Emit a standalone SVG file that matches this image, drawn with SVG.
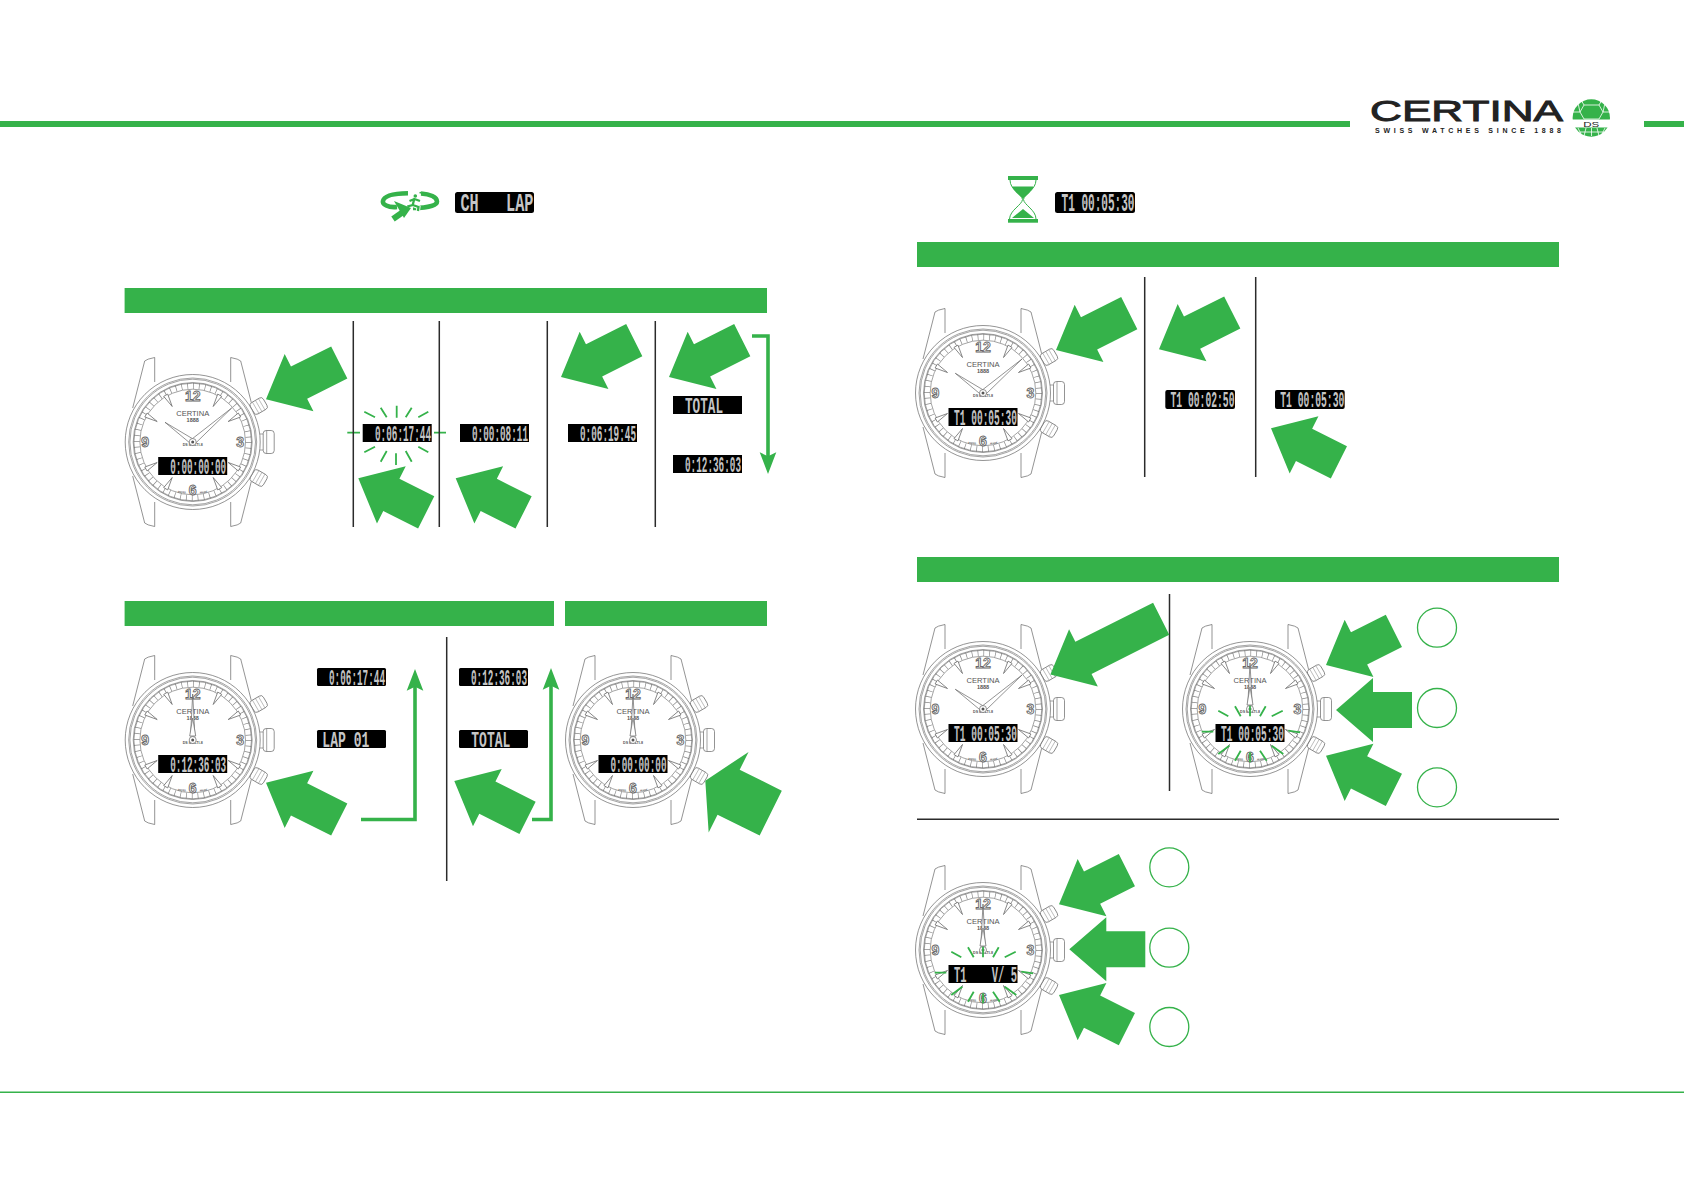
<svg xmlns="http://www.w3.org/2000/svg" width="1684" height="1191" viewBox="0 0 1684 1191">
<style>
.g{fill:#35b24a}
.ln{fill:none;stroke:#666;stroke-width:.6}
.w{fill:#fff;stroke:#666;stroke-width:.7}
.div{stroke:#2b2b2b;stroke-width:1.5;fill:none}
.ray{stroke:#35b24a;stroke-width:1.8;fill:none}
.flow{stroke:#35b24a;stroke-width:3.6;fill:none}
.lcd{fill:#000}
.t{font-family:"Liberation Mono",monospace;font-weight:700;font-size:9.400px;fill:url(#dots)}
.th{font-family:"Liberation Mono",monospace;font-weight:700;font-size:10.800px;fill:url(#dots)}
.num{font-family:"Liberation Sans",Arial,sans-serif;font-weight:700;font-size:14px;fill:#fff;stroke:#666;stroke-width:.9;text-anchor:middle}
.dial{font-family:"Liberation Sans",Arial,sans-serif;fill:#555;text-anchor:middle}
</style>
<defs>
<pattern id="dots" patternUnits="userSpaceOnUse" width="1.5" height=".625"><rect width="1.5" height=".625" fill="#999"/><ellipse cx=".75" cy=".312" rx=".62" ry=".26" fill="#fff"/></pattern>
<polygon id="ar" points="0,0 37,-32 37,-18 76,-18 76,18 37,18 37,32" class="g"/>
<polygon id="br" points="0,0 37,-32 37,-18 82,-18 82,18 37,18 37,32" class="g"/>
<polygon id="cr" points="0,0 37,-32 37,-18 124,-18 124,18 37,18 37,32" class="g"/>
<polygon id="dr" points="0,0 26,-45 26,-25 73,-25 73,25 26,25 26,45" class="g"/>
<polygon id="mk" points="0,-41 2.300,-54 -2.300,-54" class="w"/>
<g id="btn"><rect x="-7.500" y="-6.500" width="15" height="13" rx="3" class="w"/><path fill="none" stroke="#888" stroke-width=".5" d="M-3.500,-6.500V6.500M0,-6.500V6.500M3.500,-6.500V6.500"/></g>
<g id="watch">
<path class="w" d="M-60,-34L-48,-81Q-46,-83 -38,-84.500L-38,-60M60,-34L48,-81Q46,-83 38,-84.500L38,-60M-60,34L-48,81Q-46,83 -38,84.500L-38,60M60,34L48,81Q46,83 38,84.500L38,60"/>
<use href="#btn" transform="translate(66,-36) rotate(-30)"/>
<use href="#btn" transform="translate(66,36) rotate(30)"/>
<rect x="70.500" y="-11.500" width="11" height="23" rx="3" class="w"/><path class="ln" d="M74,-11.500V11.500M67,-8H70.500M67,8H70.500"/>
<circle r="67.500" class="w"/><circle r="64" class="ln"/><circle r="62.800" class="ln"/><circle r="59.500" class="ln"/>
<circle r="56" fill="none" stroke="#888" stroke-width="6" stroke-dasharray=".7 5.165"/>
<circle r="58.800" class="ln" stroke-width=".5"/><circle r="52.800" class="ln"/>
<use href="#mk" transform="rotate(30)"/><use href="#mk" transform="rotate(60)"/><use href="#mk" transform="rotate(120)"/><use href="#mk" transform="rotate(150)"/><use href="#mk" transform="rotate(210)"/><use href="#mk" transform="rotate(240)"/><use href="#mk" transform="rotate(300)"/><use href="#mk" transform="rotate(330)"/>
<text class="num" x="0" y="-41.500">12</text><text class="num" x="47.500" y="5">3</text><text class="num" x="0" y="52.500">6</text><text class="num" x="-47.500" y="5">9</text>
<text class="dial" x="0" y="-26" font-size="6.500" textLength="33" lengthAdjust="spacingAndGlyphs">CERTINA</text>
<text class="dial" x="0" y="-20" font-size="5.500" font-weight="700">1888</text>
<text class="dial" x="0" y="4.200" font-size="3.600" font-weight="700">DS MULTI-8</text>
<text class="dial" x="-11" y="51" font-size="2.500" font-weight="700" transform="rotate(8 -11 51)">SWISS</text>
<text class="dial" x="11" y="51" font-size="2.500" font-weight="700" transform="rotate(-8 11 51)">MADE</text>
</g>
<g id="h1010"><polygon class="w" points="-2.200,1.500 -27.700,-19.700 1.200,-2.500"/><polygon class="w" points="-2,-2 39,-34 2,2"/><circle r="3.500" class="w"/><circle r="1.500" fill="#555"/></g>
<g id="h12"><polygon class="w" points="-2.200,-4 0,-46 2.200,-4"/><polygon class="w" points="-3,-4 0,-22 3,-4"/><circle r="3.500" class="w"/><circle r="1.500" fill="#555"/></g>
<path id="wrays" class="ray" d="M-31.700,1.700L-21.700,7.300M-15,-2.700L-9.300,7.300M0,-3.300V7.300M15.700,-2.700L10,7.300M32.700,1.700L21.700,7.300M-48.300,22.700H-36.700M38.300,21.700L50,23.300M-31.700,45L-20.700,36.700M-15,51.700L-9.300,41.700M0,43.300V53.300M10,41.700L16.700,51.700M21.700,36.700L33.300,45"/>
<marker id="flowhead" markerUnits="userSpaceOnUse" viewBox="0 -9 22 18" markerWidth="22" markerHeight="18" refX="8" refY="0" orient="auto"><path class="g" d="M0,-8.300L21.700,0L0,8.300L4,0Z"/></marker>
</defs>
<rect width="1684" height="1191" fill="#fff"/>

<g id="bars">
<rect x="0" y="121" width="1350" height="6" class="g"/><rect x="1644" y="121" width="40" height="6" class="g"/>
<rect x="124.600" y="288" width="642.400" height="25" class="g"/>
<rect x="124.600" y="601" width="429.400" height="25" class="g"/><rect x="565" y="601" width="202" height="25" class="g"/>
<rect x="917" y="242" width="642" height="25" class="g"/><rect x="917" y="557" width="642" height="25" class="g"/>
<rect x="0" y="1091.500" width="1684" height="1.500" class="g"/>
</g>

<g id="logo">
<text x="1370" y="120.500" font-family="'Liberation Sans',Arial,sans-serif" font-size="29" fill="#222" stroke="#222" stroke-width=".9" textLength="193" lengthAdjust="spacingAndGlyphs">CERTINA</text>
<text x="1375" y="133" font-family="'Liberation Sans',Arial,sans-serif" font-weight="700" font-size="7" fill="#222" textLength="186" lengthAdjust="spacing">SWISS WATCHES SINCE 1888</text>
<circle cx="1591.300" cy="118" r="18.700" class="g"/>
<path fill="none" stroke="#fff" stroke-width=".8" d="M1584,105h15l4,7l-4,7h-15l-4,-7zM1584,105l-3,-5M1599,105l3,-5M1580,112h-8M1603,112h8M1578,103l2,9M1605,103l-2,9M1586,128l-2,8M1597,128l2,8M1591.500,128v8M1578,128l3,6M1605,128l-3,6M1580,132h24"/>
<rect x="1571" y="119.500" width="41" height="8" fill="#fff"/>
<text x="1591.300" y="127" text-anchor="middle" font-family="'Liberation Sans',Arial,sans-serif" font-size="8" fill="#222" textLength="16" lengthAdjust="spacingAndGlyphs">DS</text>
</g>

<g id="icon-lap">
<path fill="none" stroke="#35b24a" stroke-width="4.600" d="M397,207C388,208 382,204 383,201C384,196 392,193.500 408,193.300"/>
<path fill="none" stroke="#35b24a" stroke-width="4.600" d="M421,193.500C430,194 437,197 437,201.500C437,205 430,208 413,208"/>
<path fill="none" stroke="#35b24a" stroke-width="6" d="M393,219L403,212"/>
<polygon class="g" points="394,201 411,208 404,218"/>
<path fill="none" stroke="#fff" stroke-width="4" d="M414.500,198L412.700,205L418.500,207L418,211"/>
<path fill="none" stroke="#35b24a" stroke-width="2.300" d="M414.500,198L412.700,205L407.300,206.500M412.700,205L418.500,207L418,211M414.500,199L409.500,201M414.500,199L420,201"/>
<circle cx="415.300" cy="196" r="1.800" class="g"/><circle cx="420.300" cy="192.700" r=".9" class="g"/>
</g>
<g id="lcd-ch-lap"><rect x="455" y="192" width="79" height="21" rx="2.500" class="lcd"/><text class="th" transform="translate(460.500,211) scale(1,2.400)" textLength="73" lengthAdjust="spacingAndGlyphs" xml:space="preserve">CH   LAP</text></g>

<g id="icon-timer">
<rect x="1008" y="176" width="30" height="4" class="g"/><rect x="1008" y="219" width="30" height="3.700" class="g"/>
<path fill="none" stroke="#35b24a" stroke-width="1" d="M1010,180C1010,190 1022,194 1022.500,199.500C1022,205 1010,210 1009.500,219M1036,180C1036,190 1024,194 1023.500,199.500C1024,205 1036,210 1036,219"/>
<path class="g" d="M1012,186.500H1033.500C1032,192 1025,196 1023,199C1021,196 1014,192 1012,186.500Z"/>
<polygon class="g" points="1012,218 1023,209 1034,218"/>
</g>
<g id="lcd-t1-header"><rect x="1055" y="192" width="80" height="21" rx="2.500" class="lcd"/><text class="th" transform="translate(1061.500,211) scale(1,2.400)" textLength="73" lengthAdjust="spacingAndGlyphs">T1 00:05:30</text></g>

<g id="watch-1" transform="translate(192.700,442)"><use href="#watch"/><use href="#h1010"/><rect x="-34.500" y="15" width="69" height="18" class="lcd"/><text class="t" transform="translate(-22.500,31.500) scale(1,2.400)" textLength="56" lengthAdjust="spacingAndGlyphs">0:00:00:00</text></g>
<g id="watch-2" transform="translate(192.700,740)"><use href="#watch"/><use href="#h12"/><rect x="-34.500" y="15" width="69" height="18" class="lcd"/><text class="t" transform="translate(-22.500,31.500) scale(1,2.400)" textLength="56" lengthAdjust="spacingAndGlyphs">0:12:36:03</text></g>
<g id="watch-3" transform="translate(633,740)"><use href="#watch"/><use href="#h12"/><rect x="-34.500" y="15" width="69" height="18" class="lcd"/><text class="t" transform="translate(-22.500,31.500) scale(1,2.400)" textLength="56" lengthAdjust="spacingAndGlyphs">0:00:00:00</text></g>
<g id="watch-4" transform="translate(983,393)"><use href="#watch"/><use href="#h1010"/><rect x="-34.500" y="15" width="69" height="18" class="lcd"/><text class="t" transform="translate(-29,31.500) scale(1,2.400)" textLength="63" lengthAdjust="spacingAndGlyphs">T1 00:05:30</text></g>
<g id="watch-5" transform="translate(983,709)"><use href="#watch"/><use href="#h1010"/><rect x="-34.500" y="15" width="69" height="18" class="lcd"/><text class="t" transform="translate(-29,31.500) scale(1,2.400)" textLength="63" lengthAdjust="spacingAndGlyphs">T1 00:05:30</text></g>
<g id="watch-6" transform="translate(1250,709)"><use href="#watch"/><use href="#h12"/><rect x="-34.500" y="15" width="69" height="18" class="lcd"/><text class="t" transform="translate(-29,31.500) scale(1,2.400)" textLength="63" lengthAdjust="spacingAndGlyphs">T1 00:05:30</text><use href="#wrays"/></g>
<g id="watch-7" transform="translate(983,950)"><use href="#watch"/><use href="#h12"/><rect x="-34.500" y="15" width="69" height="18" class="lcd"/><text class="t" transform="translate(-29,31.500) scale(1,2.400)" textLength="63" lengthAdjust="spacingAndGlyphs" xml:space="preserve">T1    V/ 5</text><use href="#wrays"/></g>

<g id="lcds">
<rect x="362.700" y="424" width="69" height="18" class="lcd"/><text class="t" transform="translate(375,440.500) scale(1,2.400)" textLength="56" lengthAdjust="spacingAndGlyphs">0:06:17:44</text>
<rect x="460" y="424" width="69" height="18" class="lcd"/><text class="t" transform="translate(472,440.500) scale(1,2.400)" textLength="56" lengthAdjust="spacingAndGlyphs">0:00:08:11</text>
<rect x="568" y="424" width="69" height="18" class="lcd"/><text class="t" transform="translate(580,440.500) scale(1,2.400)" textLength="56" lengthAdjust="spacingAndGlyphs">0:06:19:45</text>
<rect x="673" y="396" width="69" height="18" class="lcd"/><text class="t" transform="translate(685,412.500) scale(1,2.400)" textLength="38" lengthAdjust="spacingAndGlyphs">TOTAL</text>
<rect x="673" y="455" width="69" height="18" class="lcd"/><text class="t" transform="translate(685,471.500) scale(1,2.400)" textLength="56" lengthAdjust="spacingAndGlyphs">0:12:36:03</text>
<rect x="317" y="668" width="69" height="18" rx="1.500" class="lcd"/><text class="t" transform="translate(329,684.500) scale(1,2.400)" textLength="56" lengthAdjust="spacingAndGlyphs">0:06:17:44</text>
<rect x="317" y="730" width="69" height="18" rx="1.500" class="lcd"/><text class="t" transform="translate(322.300,746.500) scale(1,2.400)" textLength="47" lengthAdjust="spacingAndGlyphs">LAP 01</text>
<rect x="459" y="668" width="69" height="18" rx="1.500" class="lcd"/><text class="t" transform="translate(471,684.500) scale(1,2.400)" textLength="56" lengthAdjust="spacingAndGlyphs">0:12:36:03</text>
<rect x="459" y="730" width="69" height="18" rx="1.500" class="lcd"/><text class="t" transform="translate(471.300,746.500) scale(1,2.400)" textLength="39" lengthAdjust="spacingAndGlyphs">TOTAL</text>
<rect x="1165.300" y="390" width="69.700" height="19" rx="2" class="lcd"/><text class="t" transform="translate(1170.500,407) scale(1,2.400)" textLength="64" lengthAdjust="spacingAndGlyphs">T1 00:02:50</text>
<rect x="1275" y="390" width="69.700" height="19" rx="2" class="lcd"/><text class="t" transform="translate(1280.300,407) scale(1,2.400)" textLength="64" lengthAdjust="spacingAndGlyphs">T1 00:05:30</text>
</g>

<g id="flash" class="ray"><path d="M364.300,411.700L375,417.300M380.700,407.700L386.700,417.300M396.700,405.700V417.700M405.700,417.300L411.700,407.700M418.300,417.300L428.300,411.700M347.300,432.700H360M434,432.700H446M364.300,452.300L375,446.700M380.700,461.700L386.700,451M396,453.300V465M405.700,451L411.700,461.700M418.300,446.700L428.300,452.300"/></g>

<g id="dividers" class="div">
<path d="M353.300,321V527M439.300,321V527M547.300,321V527M655.300,321V527"/>
<path d="M446.700,637V881"/>
<path d="M1144.700,277V477M1255.700,277V477"/>
<path d="M1169.500,594V791"/>
<path d="M917,819.300H1559"/>
</g>

<g id="circles" fill="none" stroke="#35b24a" stroke-width="1.300">
<circle cx="1437" cy="627.700" r="19.500"/><circle cx="1437" cy="708" r="19.500"/><circle cx="1437" cy="787.300" r="19.500"/>
<circle cx="1169.300" cy="867.300" r="19.500"/><circle cx="1169.300" cy="947.700" r="19.500"/><circle cx="1169.300" cy="1027" r="19.500"/>
</g>

<g id="connectors">
<path class="flow" d="M752,336H768V460.300" marker-end="url(#flowhead)"/>
<path class="flow" d="M361,819.500H415V682.700" marker-end="url(#flowhead)"/>
<path class="flow" d="M532,819.500H551V681.700" marker-end="url(#flowhead)"/>
</g>

<g id="press-arrows">
<use href="#br" transform="translate(266,399.300) rotate(-26.700)"/>
<use href="#ar" transform="translate(358.300,478.300) rotate(26.700)"/>
<use href="#ar" transform="translate(455.700,478.300) rotate(26.700)"/>
<use href="#br" transform="translate(561,377) rotate(-26.700)"/>
<use href="#br" transform="translate(669,377) rotate(-26.700)"/>
<use href="#br" transform="translate(266,782.700) rotate(26.700)"/>
<use href="#br" transform="translate(454.300,781) rotate(26.700)"/>
<use href="#dr" transform="translate(705.300,780.700) rotate(26.300)"/>
<use href="#br" transform="translate(1056,350) rotate(-26.700)"/>
<use href="#br" transform="translate(1159,349.300) rotate(-26.700)"/>
<use href="#ar" transform="translate(1271,428.300) rotate(26.700)"/>
<use href="#cr" transform="translate(1050.400,674.500) rotate(-26.700)"/>
<use href="#ar" transform="translate(1326,665) rotate(-26.700)"/>
<use href="#ar" transform="translate(1336,710)"/>
<use href="#ar" transform="translate(1326,755.700) rotate(26.700)"/>
<use href="#ar" transform="translate(1059,904.300) rotate(-26.700)"/>
<use href="#ar" transform="translate(1069.300,949.300)"/>
<use href="#ar" transform="translate(1059,995) rotate(26.700)"/>
</g>
</svg>
